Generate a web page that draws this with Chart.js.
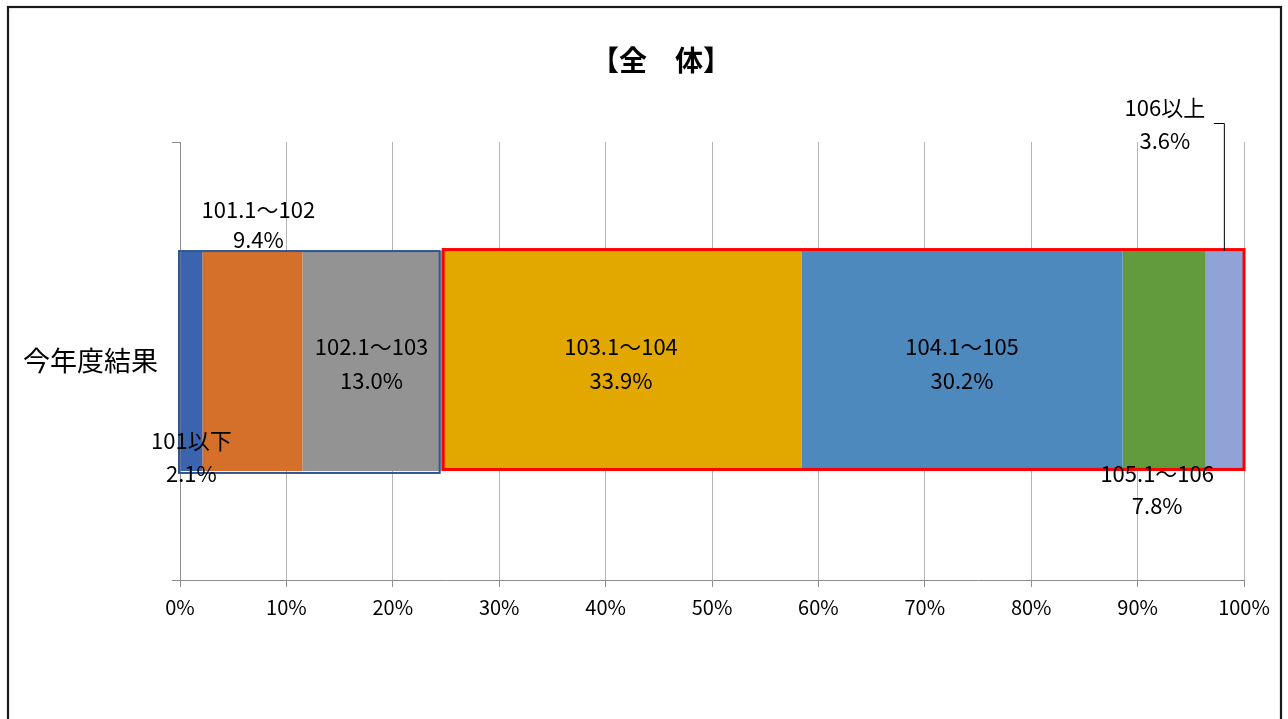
<!DOCTYPE html>
<html>
<head>
<meta charset="utf-8">
<script src="https://cdn.jsdelivr.net/npm/chart.js@4.4.0/dist/chart.umd.min.js"></script>
<style>
  html, body { margin: 0; padding: 0; background: #ffffff; }
  #wrap { width: 1288px; height: 719px; position: relative; }
</style>
</head>
<body>
<div id="wrap"><canvas id="c" width="1288" height="719"></canvas></div>
<script>
// ---- data ----
const categories = ['今年度結果'];
const segmentNames = ['101以下', '101.1～102', '102.1～103', '103.1～104', '104.1～105', '105.1～106', '106以上'];
const segmentValues = [2.1, 9.4, 13.0, 33.9, 30.2, 7.8, 3.6];
const tickValues = [0, 10, 20, 30, 40, 50, 60, 70, 80, 90, 100];
const titleText = '【全　体】';

// ---- styles ----
const colors = ['#3C64AE', '#D5702B', '#939393', '#E2A800', '#4E89BD', '#629A3E', '#8FA3D6'];
// label offsets relative to the segment centre: [dx, dy of first line, dy of second line]
const labelOffsets = [
  [0, 80, 113],
  [6, -151, -121],
  [0, -14, 20],
  [0, -14, 20],
  [0, -14, 20],
  [-7, 113, 145],
  [-60, -253, -220]
];
const numFont = "'Liberation Sans Narrow', 'Noto Sans CJK JP', sans-serif";

const datasets = segmentNames.map((n, i) => ({
  label: n,
  data: [segmentValues[i]],
  backgroundColor: colors[i],
  borderWidth: 0,
  barPercentage: 0.502,
  categoryPercentage: 1.0
}));

const decorPlugin = {
  id: 'decor',
  beforeDraw(chart) {
    const ctx = chart.ctx;
    ctx.save();
    ctx.fillStyle = '#fff';
    ctx.fillRect(0, 0, chart.width, chart.height);
    ctx.strokeStyle = '#1a1a1a';
    ctx.lineWidth = 2.2;
    ctx.strokeRect(8, 7, 1273, 730);
    ctx.restore();
  },
  afterDatasetsDraw(chart) {
    const ctx = chart.ctx;
    const xs = chart.scales.x;
    const metas = segmentNames.map((n, i) => chart.getDatasetMeta(i).data[0]);
    const top = metas[0].y - metas[0].height / 2;
    const bottom = metas[0].y + metas[0].height / 2;
    ctx.save();
    // group outlines
    const split = segmentValues[0] + segmentValues[1] + segmentValues[2];
    ctx.strokeStyle = '#2F5597';
    ctx.lineWidth = 2;
    ctx.strokeRect(xs.getPixelForValue(0) - 1, top, xs.getPixelForValue(split) - xs.getPixelForValue(0), bottom - top + 2);
    ctx.strokeStyle = '#FF0000';
    ctx.lineWidth = 3;
    ctx.strokeRect(xs.getPixelForValue(split) + 2.5, top - 1.5, xs.getPixelForValue(100) - xs.getPixelForValue(split) - 2.5, bottom - top);

    // title
    ctx.fillStyle = '#000';
    ctx.font = "bold 28px 'Noto Sans CJK JP', sans-serif";
    ctx.textAlign = 'center';
    ctx.textBaseline = 'middle';
    ctx.fillText(titleText, 661, 60);

    // data labels
    ctx.font = "22px " + numFont;
    metas.forEach((bar, i) => {
      const cx = (bar.x + bar.base) / 2;
      const cy = bar.y;
      const [dx, d1, d2] = labelOffsets[i];
      ctx.fillText(segmentNames[i], cx + dx, cy + d1);
      ctx.fillText(segmentValues[i].toFixed(1) + '%', cx + dx, cy + d2);
    });

    // leader line for the last label
    const last = metas[metas.length - 1];
    const lx = (last.x + last.base) / 2;
    ctx.strokeStyle = '#000';
    ctx.lineWidth = 1;
    ctx.beginPath();
    ctx.moveTo(lx - 11, last.y - 237.5);
    ctx.lineTo(lx - 0.5, last.y - 237.5);
    ctx.lineTo(lx - 0.5, top);
    ctx.stroke();
    ctx.restore();
  }
};

new Chart(document.getElementById('c'), {
  type: 'bar',
  data: { labels: categories, datasets },
  options: {
    indexAxis: 'y',
    responsive: false,
    animation: false,
    devicePixelRatio: 1,
    layout: { padding: { left: 20, right: 44, top: 142, bottom: 0 } },
    plugins: { legend: { display: false }, title: { display: false }, tooltip: { enabled: false } },
    scales: {
      x: {
        stacked: true,
        min: 0, max: 100,
        afterBuildTicks(scale) { scale.ticks = tickValues.map(v => ({ value: v })); },
        afterFit(scale) { scale.height = 139; },
        ticks: {
          callback: v => v + '%',
          color: '#000',
          font: { family: numFont, size: 20 },
          padding: 8,
          maxRotation: 0,
          autoSkip: false
        },
        grid: { color: '#b5b5b5', lineWidth: 1, tickLength: 7, tickColor: '#8c8c8c' },
        border: { display: true, color: '#8c8c8c', width: 1 }
      },
      y: {
        stacked: true,
        afterFit(scale) { scale.width = 160; },
        ticks: {
          color: '#000',
          font: { family: "'Noto Sans CJK JP', sans-serif", size: 27 },
          padding: 14
        },
        grid: { display: true, drawOnChartArea: false, tickLength: 8, color: '#8c8c8c' },
        border: { display: true, color: '#8c8c8c', width: 1 }
      }
    }
  },
  plugins: [decorPlugin]
});
</script>
</body>
</html>
